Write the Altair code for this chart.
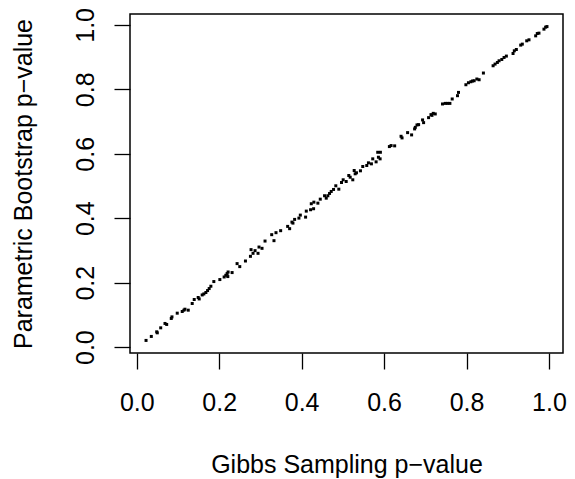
import altair as alt
import pandas as pd

gibbs = [0.0225, 0.0353, 0.0484, 0.0498, 0.0581, 0.0685, 0.0726, 0.0837, 0.0854, 0.0982,
         0.1103, 0.1144, 0.1169, 0.1249, 0.1345, 0.1394, 0.1490, 0.1515, 0.1587, 0.1628,
         0.1677, 0.1718, 0.1757, 0.1870, 0.2016, 0.2120, 0.2161, 0.2192, 0.1798, 0.2209,
         0.2216, 0.2313, 0.2434, 0.2499, 0.2637, 0.2758, 0.2773, 0.2821, 0.2870, 0.2942,
         0.2966, 0.3039, 0.3112, 0.3274, 0.3329, 0.3378, 0.3491, 0.3661, 0.3709, 0.3765,
         0.3789, 0.3830, 0.3934, 0.3968, 0.4096, 0.4113, 0.4217, 0.4290, 0.4234, 0.4297,
         0.4394, 0.4452, 0.4556, 0.4597, 0.4636, 0.4677, 0.4718, 0.4774, 0.4829, 0.4902,
         0.4967, 0.5008, 0.5081, 0.5144, 0.5178, 0.5241, 0.5275, 0.5299, 0.5330, 0.5427,
         0.5483, 0.5580, 0.5621, 0.5693, 0.5725, 0.5807, 0.5846, 0.5863, 0.5911, 0.5904,
         0.6129, 0.6170, 0.6257, 0.6412, 0.6436, 0.6571, 0.6668, 0.6741, 0.6758, 0.6799,
         0.6838, 0.6934, 0.6959, 0.7080, 0.7138, 0.7162, 0.7193, 0.7242, 0.7418, 0.7484,
         0.7539, 0.7597, 0.7653, 0.7781, 0.7806, 0.7985, 0.8047, 0.8106, 0.8144, 0.8185,
         0.8251, 0.8306, 0.8410, 0.8645, 0.8693, 0.8749, 0.8790, 0.8856, 0.8911, 0.8967,
         0.9129, 0.9160, 0.9209, 0.9315, 0.9354, 0.9461, 0.9516, 0.9678, 0.9717, 0.9758,
         0.9879, 0.9920, 0.9952]

bootstrap = [0.0207, 0.0331, 0.0474, 0.0443, 0.0598, 0.0734, 0.0703, 0.0889, 0.0938, 0.1053,
             0.1105, 0.1146, 0.1176, 0.1146, 0.1353, 0.1477, 0.1539, 0.1495, 0.1619, 0.1650,
             0.1694, 0.1755, 0.1817, 0.2034, 0.2096, 0.2176, 0.2229, 0.2282, 0.1889, 0.2189,
             0.2331, 0.2313, 0.2591, 0.2498, 0.2672, 0.2817, 0.3025, 0.2910, 0.2994, 0.2910,
             0.3105, 0.3065, 0.3291, 0.3489, 0.3303, 0.3551, 0.3613, 0.3746, 0.3675, 0.3879,
             0.3848, 0.3963, 0.4003, 0.4096, 0.4034, 0.4220, 0.4263, 0.4294, 0.4449, 0.4498,
             0.4467, 0.4591, 0.4697, 0.4622, 0.4697, 0.4768, 0.4830, 0.4892, 0.5006, 0.4901,
             0.5108, 0.5192, 0.5139, 0.5325, 0.5272, 0.5192, 0.5480, 0.5378, 0.5409, 0.5471,
             0.5604, 0.5635, 0.5718, 0.5687, 0.5842, 0.5749, 0.6046, 0.5892, 0.6046, 0.5842,
             0.6223, 0.6254, 0.6245, 0.6542, 0.6492, 0.6656, 0.6585, 0.6771, 0.6820, 0.6895,
             0.6904, 0.7050, 0.6966, 0.7121, 0.7214, 0.7192, 0.7254, 0.7235, 0.7545, 0.7563,
             0.7563, 0.7563, 0.7700, 0.7802, 0.7904, 0.8142, 0.8204, 0.8235, 0.8257, 0.8266,
             0.8319, 0.8297, 0.8505, 0.8731, 0.8783, 0.8833, 0.8885, 0.8926, 0.8988, 0.9031,
             0.9112, 0.9195, 0.9235, 0.9372, 0.9402, 0.9505, 0.9536, 0.9659, 0.9731, 0.9743,
             0.9867, 0.9929, 0.9947]

tick_values = [0.0, 0.2, 0.4, 0.6, 0.8, 1.0]

df = pd.DataFrame({"gibbs": gibbs, "boot": bootstrap})

W, H = 433, 339
FONT = "Liberation Sans"
FS = 25

chart = alt.Chart(df).mark_square(size=9, color="black", opacity=1, filled=True).encode(
    x=alt.X("gibbs:Q",
            scale=alt.Scale(domain=[-0.0164, 1.0341], nice=False, zero=False),
            axis=alt.Axis(values=tick_values, format=".1f", grid=False, domain=False,
                          tickSize=16, tickColor="black", tickWidth=1.3,
                          labelFont=FONT, labelFontSize=FS, labelColor="black",
                          labelPadding=21, labelFlush=False,
                          title="Gibbs Sampling p\u2212value", titleFont=FONT,
                          titleFontSize=FS, titleFontWeight="normal", titleColor="black",
                          titleBaseline="alphabetic", titleAlign="center",
                          titleX=W / 2, titleY=119)),
    y=alt.Y("boot:Q",
            scale=alt.Scale(domain=[-0.0183, 1.0337], nice=False, zero=False),
            axis=alt.Axis(values=tick_values, format=".1f", grid=False, domain=False,
                          tickSize=16, tickColor="black", tickWidth=1.3,
                          labelFont=FONT, labelFontSize=FS, labelColor="black",
                          labelAngle=270, labelAlign="center", labelBaseline="alphabetic",
                          labelPadding=21, labelFlush=False,
                          title="Parametric Bootstrap p\u2212value", titleFont=FONT,
                          titleFontSize=FS, titleFontWeight="normal", titleColor="black",
                          titleAngle=270, titleBaseline="alphabetic", titleAlign="center",
                          titleX=-99, titleY=H / 2)),
).properties(
    width=W, height=H,
    background="white",
    autosize=alt.AutoSizeParams(type="none"),
    padding={"left": 122, "top": 6, "right": 4, "bottom": 126},
).configure_view(
    stroke="black", strokeWidth=1.5
)

chart.save("out.html", embed_options={"renderer": "svg", "actions": False})
